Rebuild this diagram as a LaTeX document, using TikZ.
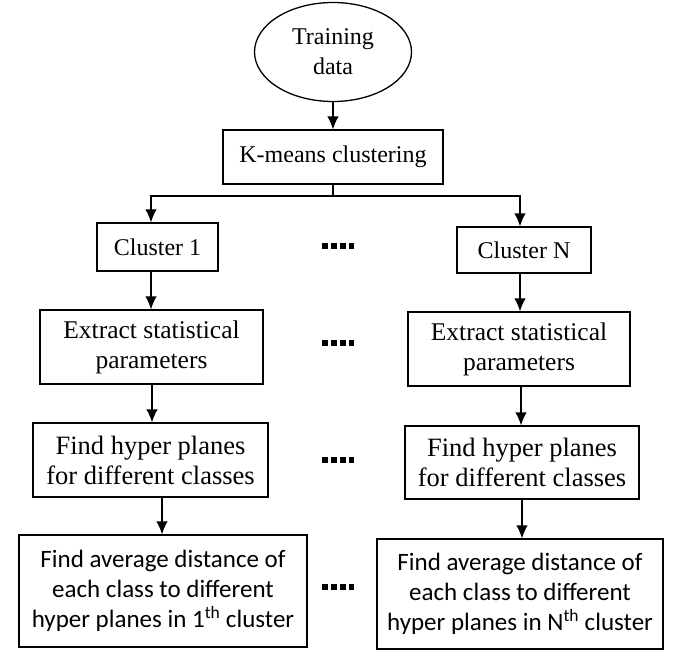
\documentclass[tikz,border=0pt]{standalone}
\usepackage{fontspec}
\setmainfont{Liberation Serif}
\newfontfamily\calfont{Carlito}
\usetikzlibrary{arrows.meta,shapes.geometric,calc}
\begin{document}
\begin{tikzpicture}[x=1pt,y=-1pt,
  line width=1.3pt,
  box/.style={draw,rectangle,align=center,inner sep=0pt},
  arr/.style={-{Latex[length=13pt,width=11.5pt]}},
  txt/.style={font=\fontsize{24}{30}\selectfont},
  txtb/.style={font=\fontsize{25.5}{30}\selectfont},
  txtc/.style={font=\fontsize{26.5}{30}\selectfont},
  txtd/.style={font=\calfont\fontsize{25}{30}\selectfont},
  dots/.style={inner sep=0pt}]
\useasboundingbox (0,0) rectangle (674,649);
\fill[white] (0,0) rectangle (674,649);

\newcommand{\fourdots}{\rule{5.5pt}{5.5pt}\hspace{3.5pt}\rule{5.5pt}{5.5pt}\hspace{3.5pt}\rule{5.5pt}{5.5pt}\hspace{3.5pt}\rule{4.5pt}{5.5pt}}

% top of the flow
\node[draw,ellipse,minimum width=157pt,minimum height=99pt,align=center,inner sep=0pt,txt] (train) at (333,52) {Training\\data};
\node[box,txt,minimum width=220pt,minimum height=54pt] (kmeans) at (333,157) {K-means clustering};

% split into clusters
\coordinate (split) at (333,196);
\coordinate (L) at (151,196);
\coordinate (R) at (520,196);

% left column
\node[box,txt,minimum width=121pt,minimum height=48pt] (c1) at (157.5,247) {Cluster 1};
\node[box,txtb,minimum width=223pt,minimum height=74pt] (e1) at (151.5,347) {Extract statistical\\parameters};
\node[box,txtc,minimum width=235pt,minimum height=74pt] (f1) at (150.5,460) {Find hyper planes\\for different classes};
\node[box,txtd,minimum width=288pt,minimum height=112pt] (d1) at (163,591) {Find average distance of\\each class to different\\hyper planes in 1\textsuperscript{th} cluster};

% right column
\node[box,txt,minimum width=134pt,minimum height=46pt] (cN) at (524,250) {Cluster N};
\node[box,txtb,minimum width=222pt,minimum height=74pt] (eN) at (519,349) {Extract statistical\\parameters};
\node[box,txtc,minimum width=234pt,minimum height=73pt] (fN) at (522,462.5) {Find hyper planes\\for different classes};
\node[box,txtd,minimum width=286pt,minimum height=110pt] (dN) at (520,594) {Find average distance of\\each class to different\\hyper planes in N\textsuperscript{th} cluster};

% ellipsis marks between the columns
\node[dots] (dt1) at (338,246) {\fourdots};
\node[dots] (dt2) at (338,343) {\fourdots};
\node[dots] (dt3) at (338,460) {\fourdots};
\node[dots] (dt4) at (338,587) {\fourdots};

% connectors
\draw[arr] (train) -- (kmeans);
\draw (kmeans.south) -- (split);
\draw[arr] (split) -- (L) -- (L |- c1.north);
\draw[arr] (split) -- (R) -- (R |- cN.north);

\draw[arr] (151,0 |- c1.south) -- (151,0 |- e1.north);
\draw[arr] (152,0 |- e1.south) -- (152,0 |- f1.north);
\draw[arr] (162,0 |- f1.south) -- (162,0 |- d1.north);

\draw[arr] (520,0 |- cN.south) -- (520,0 |- eN.north);
\draw[arr] (521,0 |- eN.south) -- (521,0 |- fN.north);
\draw[arr] (522,0 |- fN.south) -- (522,0 |- dN.north);
\end{tikzpicture}
\end{document}
